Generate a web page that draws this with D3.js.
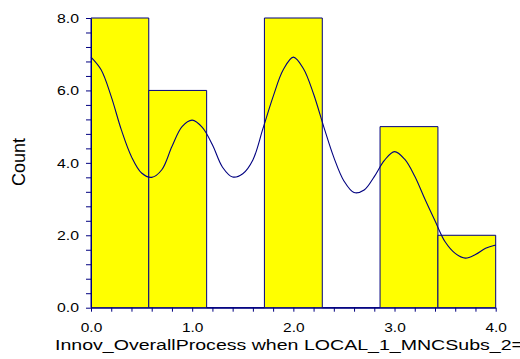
<!DOCTYPE html>
<html>
<head>
<meta charset="utf-8">
<script src="https://cdn.jsdelivr.net/npm/d3@7"></script>
<style>
  html, body { margin: 0; padding: 0; background: #ffffff; }
  svg { display: block; }
  text { font-family: "Liberation Sans", Arial, sans-serif; fill: #000000; }
</style>
</head>
<body>
<svg id="chart" width="520" height="359"></svg>
<script>
// Histogram bins (edges) and their counts
const binEdges = [0.0, 0.571, 1.143, 1.714, 2.286, 2.857, 3.429, 4.0];
const binCounts = [8, 6, 0, 8, 0, 5, 2];

// Smoothed density overlay, expressed in count units
const densityX = [0.0, 0.1, 0.2, 0.3, 0.4, 0.5, 0.6, 0.7, 0.8, 0.9,
                  1.0, 1.1, 1.2, 1.3, 1.4, 1.5, 1.6, 1.7, 1.8, 1.9,
                  2.0, 2.1, 2.2, 2.3, 2.4, 2.5, 2.6, 2.7, 2.8, 2.9,
                  3.0, 3.1, 3.2, 3.3, 3.4, 3.5, 3.6, 3.7, 3.8, 3.9, 4.0];
const densityY = [6.92, 6.57, 5.83, 4.91, 4.17, 3.72, 3.60, 3.81, 4.45, 5.00,
                  5.18, 4.98, 4.50, 3.88, 3.61, 3.70, 4.08, 4.95, 5.83, 6.57,
                  6.92, 6.60, 5.90, 5.00, 4.15, 3.50, 3.18, 3.25, 3.62, 4.07,
                  4.31, 4.10, 3.63, 3.00, 2.40, 1.82, 1.50, 1.37, 1.47, 1.64, 1.73];

// Axis ticks
const xMinorTicks = d3.range(0, 21).map(i => i * 0.2);
const xTickLabels = [0.0, 1.0, 2.0, 3.0, 4.0];
const yMinorTicks = d3.range(0, 21).map(i => i * 0.4);
const yTickLabels = [0.0, 2.0, 4.0, 6.0, 8.0];

const xTitle = "Innov_OverallProcess when LOCAL_1_MNCSubs_2=";
const yTitle = "Count";

const navy = "#000080";
const barFill = "#ffff00";

const svg = d3.select("#chart");
const x = d3.scaleLinear().domain([0, 4]).range([91, 495.7]);
const y = d3.scaleLinear().domain([0, 8]).range([307.7, 18]);

// Bars (drawn as paths so empty bins still show their outline on the baseline)
const bars = binCounts.map((c, i) => ({ x0: binEdges[i], x1: binEdges[i + 1], c }));
svg.append("g")
  .selectAll("path")
  .data(bars)
  .join("path")
  .attr("d", d => `M${x(d.x0)},${y(0)}V${y(d.c)}H${x(d.x1)}V${y(0)}Z`)
  .attr("fill", barFill)
  .attr("stroke", navy)
  .attr("stroke-width", 1);

// Density curve
const pts = densityX.map((v, i) => [v, densityY[i]]);
svg.append("path")
  .datum(pts)
  .attr("fill", "none")
  .attr("stroke", navy)
  .attr("stroke-width", 1.1)
  .attr("d", d3.line().x(d => x(d[0])).y(d => y(d[1])).curve(d3.curveCatmullRom.alpha(0.5)));

const isLabel = (v, list) => list.some(t => Math.abs(t - v) < 1e-6);

// X axis
const gx = svg.append("g")
  .attr("transform", `translate(0,${y(0)})`)
  .call(d3.axisBottom(x)
    .tickValues(xMinorTicks)
    .tickSize(4)
    .tickSizeOuter(0)
    .tickPadding(11)
    .tickFormat(v => isLabel(v, xTickLabels) ? d3.format(".1f")(v) : ""));
gx.select(".domain").attr("stroke", navy);
gx.selectAll(".tick line").attr("stroke", navy);
gx.selectAll(".tick text")
  .attr("font-size", 13)
  .attr("font-family", "Liberation Sans, Arial, sans-serif")
  .attr("fill", "#000")
  .filter(function () { return this.textContent !== ""; })
  .attr("textLength", 21.5)
  .attr("lengthAdjust", "spacingAndGlyphs");

// Y axis
const gy = svg.append("g")
  .attr("transform", `translate(${x(0)},0)`)
  .call(d3.axisLeft(y)
    .tickValues(yMinorTicks)
    .tickSize(5)
    .tickSizeOuter(0)
    .tickPadding(7)
    .tickFormat(v => isLabel(v, yTickLabels) ? d3.format(".1f")(v) : ""));
gy.select(".domain").attr("stroke", navy);
gy.selectAll(".tick line").attr("stroke", navy);
gy.selectAll(".tick text")
  .attr("font-size", 13)
  .attr("font-family", "Liberation Sans, Arial, sans-serif")
  .attr("fill", "#000")
  .filter(function () { return this.textContent !== ""; })
  .attr("textLength", 22)
  .attr("lengthAdjust", "spacingAndGlyphs");

// Axis titles
svg.append("text")
  .attr("x", 55)
  .attr("y", 349.5)
  .attr("font-size", 14)
  .attr("textLength", 468)
  .attr("lengthAdjust", "spacingAndGlyphs")
  .text(xTitle);

svg.append("text")
  .attr("transform", "translate(25,162) rotate(-90)")
  .attr("text-anchor", "middle")
  .attr("font-size", 18)
  .text(yTitle);
</script>
</body>
</html>
